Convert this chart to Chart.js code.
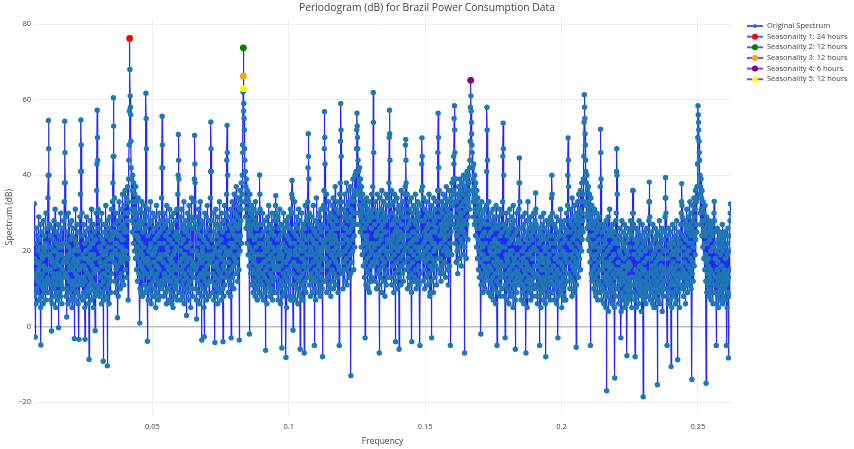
<!DOCTYPE html>
<html>
<head>
<meta charset="utf-8">
<script src="https://cdn.jsdelivr.net/npm/chart.js@4"></script>
<style>
  html, body { margin: 0; padding: 0; background: #fff; }
</style>
</head>
<body>
<canvas id="periodogram" width="854" height="449"></canvas>
<script>
// frequency bins (cycles per hour): bin i sits at i * binWidth
// 64 bins per weekly harmonic (1/168), so each row below starts on a harmonic
const binWidth = 1 / 10752;
const firstBin = 72;

// spectrum in dB
const spectrumDb = [
  32.5, 8, 18, 13, -2.8, 10, 22, 6, 26, 17, 14, 9, 24, 12, 20, 15, 12, 21, 29, 7, 17, 11, 23, 16, 27, 5, -4.9, 13, 19, 8, 25, 14, 11, 18, 21, 6, 28, 10, 16, 20, 24, 12, 9, 15, 22, 7, 30, 11, 15, 19, 26, 9, 21, 13, 34, 40,
  54.5, 47, 40, 12, 27, 9, 19, 15, 24, 7, 21, 18, -1.2, 11, 17, 6, 26, 14, 23, 10, 13, 20, 28, 8, 20, 16, 31, 12, 16, 5, 22, 17, 25, 11, 9, 14, 18, 7, 27, 19, -0.3, 13, 21, 9, 14, 16, 24, 8, 30, 12, 19, 21, 11, 6, 26, 15, 22, 10, 17, 13, 28, 18, 33, 38,
  54.3, 46, 38, 14, 29, 8, 22, 17, 2.5, 10, 25, 13, 18, 6, 30, 19, 21, 9, 15, 12, 27, 16, 23, 7, 12, 20, 19, 11, 28, 5, 24, 15, 17, 10, 26, 8, 20, 18, -3.2, 12, 23, 7, 31, 14, 16, 21, 22, 9, 27, 11, 13, 17, 25, 6, 20, 13, -3.4, 15, 18, 8, 29, 12, 35, 41,
  54.6, 48, 41, 16, 30, 11, 24, 7, 19, 13, 27, 9, 16, 18, 22, 5, -3.4, 12, 25, 15, 20, 8, 29, 20, 14, 10, 23, 14, 18, 6, 26, 17, -8.7, 11, 21, 9, 28, 13, 17, 19, 24, 7, 31, 12, 12, 16, 22, 10, 27, 5, 19, 14, 15, 18, 25, 8, -1.1, 11, 23, 15, 30, 9, 36, 43,
  57.2, 50, 44, 15, 31, 10, 26, 18, 21, 8, 28, 13, 17, 21, 24, 11, 20, 6, 30, 16, 23, 9, 14, 19, -9.2, 12, 22, 7, 27, 14, 25, 17, 19, 10, 32, 20, 16, 8, 24, 13, -10.4, 15, 28, 11, 21, 18, 26, 6, 13, 16, 29, 12, 23, 9, 18, 21, 31, 14, 25, 19, 33, 24, 38, 45,
  60.5, 53, 45, 17, 34, 12, 27, 20, 22, 9, 30, 15, 25, 22, 19, 11, 2.3, 16, 28, 8, 24, 19, 33, 13, 21, 24, 26, 10, 17, 18, 29, 14, 31, 21, 23, 12, 35, 17, 20, 23, 27, 11, 32, 19, 25, 26, 36, 15, 18, 20, 30, 13, 34, 25, 28, 30, 37, 18, 7, 33, 39, 44, 48, 57,
  76.2, 68, 61, 58, 56, 49, 42, 31, 39, 28, 36, 25, 40, 30, 33, 22, 38, 27, 31, 20, 35, 24, 29, 18, 37, 26, 27, 15, 33, 21, 24, 12, 30, 19, 34, 23, 26, 14, 28, 17, 0.9, 10, 31, 20, 22, 9, 27, 16, 33, 13, 19, 8, 25, 15, 30, 18, 21, 11, 28, 14, 32, 9, 26, 17,
  61.7, 55, 47, 14, 29, 10, -3.9, 18, 24, 7, 31, 13, 20, 16, 27, 9, 17, 21, 33, 11, 22, 6, 28, 15, 14, 19, 25, 8, 30, 12, 19, 17, 26, 10, 8, 20, 23, 13, 29, 5, 21, 16, 32, 9, 16, 14, 24, 18, 27, 7, 12, 11, 30, 15, 22, 8, 25, 19, 18, 12, 28, 10, 34, 42,
  55.6, 48, 42, 11, 26, 17, 22, 8, 30, 14, 13, 19, 27, 9, 24, 12, 19, 6, 32, 16, 21, 13, 28, 20, 16, 10, 25, 15, 23, 7, 31, 18, 18, 12, 26, 9, 29, 14, 6, 17, 22, 11, 27, 5, 15, 19, 30, 13, 24, 8, 20, 16, 28, 10, 11, 21, 25, 12, 31, 7, 23, 15, 35, 40,
  50.8, 44, 39, 13, 24, 9, 17, 20, 29, 7, 22, 15, 31, 11, 26, 18, 14, 8, 27, 12, 23, 16, 33, 6, 19, 14, 25, 19, 28, 10, 21, 13, 2.9, 17, 26, 9, 30, 21, 18, 11, 24, 7, 32, 15, 27, 12, 12, 18, 22, 5, 29, 14, 34, 10, 20, 16, 26, 8, 17, 20, 28, 13, 33, 39,
  50.5, 43, 38, 15, 27, 10, 20, 7, 2, 16, 25, 12, 29, 19, 22, 9, 31, 13, 26, 6, 17, 18, 33, 11, 24, 14, 28, 8, -3.6, 17, 21, 20, 27, 10, 19, 13, 23, 5, -2.7, 15, 30, 12, 25, 9, 14, 18, 29, 7, 22, 16, 32, 11, 18, 14, 26, 19, 21, 8, 28, 12, 24, 17, 34, 41,
  54.1, 47, 41, 12, 28, 18, 23, 9, 19, 14, 30, 7, 25, 16, 21, 11, -4.2, 20, 27, 13, 31, 8, 16, 17, 24, 10, 29, 6, 22, 15, 12, 19, 26, 12, 33, 9, 20, 14, 27, 18, 23, 7, 30, 13, 18, 21, 25, 10, -4, 16, 28, 8, 21, 15, 32, 11, 26, 17, 19, 13, 30, 20, 35, 44,
  53.2, 46, 40, 14, 29, 9, 24, 17, 19, 12, 27, 20, 22, 8, 31, 15, -3, 11, 26, 19, 33, 13, 25, 22, 21, 16, 28, 10, 35, 18, 24, 24, 30, 14, 27, 21, 37, 17, 23, 26, 32, 12, 29, 19, 26, 23, 34, 15, -3.6, 27, 31, 20, 36, 24, 28, 31, 38, 22, 33, 35, 40, 48, 46, 62,
  73.7, 57, 59, 55, 52, 47, 44, 33, 41, 29, 37, 26, 39, 31, 34, 22, 36, 27, 31, 19, 33, 24, 28, 16, -2, 21, 35, 25, 30, 14, 26, 18, 32, 11, 24, 20, 29, 15, 27, 9, 18, 17, 31, 12, 23, 19, 28, 8, 33, 14, 21, 10, 26, 16, 30, 7, 24, 13, 19, 11, 27, 15, 22, 9,
  40.1, 35, 31, 12, 24, 16, 14, 8, 27, 19, 22, 11, 30, 14, 19, 7, 25, 17, 21, 13, 28, 9, 17, 20, -6.3, 15, 23, 10, 26, 6, 20, 18, 29, 12, 24, 16, 32, 11, 18, 21, 22, 8, 27, 14, 9, 19, 25, 10, 30, 13, 21, 7, 26, 17, 16, 12, 24, 9, 28, 15, 20, 18, 29, 32,
  34.6, 30, 28, 9, 16, 13, 23, 18, 29, 7, 21, 15, 26, 11, 19, 20, 31, 10, 24, 6, 27, 16, 18, 12, -5.7, 19, 22, 8, 25, 14, 30, 11, 17, 21, 26, 9, 21, 13, 28, 17, -8.2, 10, 24, 5, 20, 15, 27, 12, 12, 18, 29, 8, 23, 14, 19, 20, 26, 11, 31, 7, 22, 16, 30, 35,
  38.7, 34, 30, 14, -1, 8, 25, 17, 22, 11, 33, 20, 19, 7, 27, 13, 24, 16, 29, 10, 21, 19, 26, 6, 16, 12, 31, 15, 23, 9, 28, 21, -6, 13, 20, 8, 25, 18, 30, 11, 22, 14, 18, 7, 27, 16, 24, 20, -7, 10, 26, 12, 32, 17, 21, 9, 28, 15, 23, 19, 29, 13, 33, 42,
  51, 45, 39, 16, 30, 11, 24, 19, 27, 8, 21, 14, 13, 20, 29, 12, 23, 9, 26, 17, 32, 13, 19, 22, -5, 10, 25, 15, 28, 7, 22, 18, 34, 12, 24, 21, 27, 14, 20, 9, 30, 16, 17, 11, 26, 19, 29, 8, 23, 13, 31, 20, 25, 15, 21, 10, -8, 18, 27, 12, 32, 22, 36, 47,
  56.8, 50, 43, 18, 31, 12, 23, 21, 35, 9, 26, 16, 21, 13, 29, 20, 33, 11, 24, 17, 28, 14, 10, 23, 30, 8, 25, 19, 22, 15, 32, 12, 27, 22, 34, 10, 20, 18, 29, 14, 26, 24, 37, 11, 23, 17, 31, 21, 28, 13, 21, 19, 33, 9, 26, 16, 30, 22, -5, 15, 35, 20, 38, 49,
  59, 52, 45, 19, 33, 14, 27, 22, 24, 10, 31, 17, 15, 24, 29, 12, 35, 20, 26, 15, 30, 23, 38, 18, 23, 11, 32, 21, 28, 16, 36, 25, 25, 13, 33, 22, 29, 19, 37, 14, -13, 26, 31, 17, 34, 23, 27, 20, 39, 28, 30, 15, 36, 24, 33, 21, 40, 30, 35, 27, 41, 36, 47, 52,
  56.4, 53, 50, 47, 44, 35, 41, 30, 38, 27, 42, 32, 36, 25, 39, 29, 34, 21, 37, 26, 31, 19, 35, 24, 28, 16, 33, 22, 30, 13, 26, 20, -3, 17, 32, 11, 27, 23, 34, 15, 24, 18, 29, 10, 31, 21, 22, 14, 28, 9, 33, 19, 12, 16, 30, 12, 26, 20, 35, 13, 29, 17, 37, 22,
  61.9, 54, 46, 16, 31, 21, 27, 12, 33, 18, 19, 24, 29, 10, 25, 17, 35, 14, 30, 22, 22, 19, 28, 11, -7, 15, 34, 20, 26, 13, 31, 23, 24, 9, 36, 18, 29, 16, 27, 21, 33, 12, 21, 25, 30, 17, 8, 14, 28, 20, 35, 11, 25, 19, 32, 15, 23, 22, 29, 13, 34, 18, 38, 50,
  57.2, 51, 44, 20, 32, 13, 22, 18, 36, 11, 27, 23, 30, 16, 24, 21, 33, 9, 28, 19, 35, 14, 21, 25, -4, 12, 29, 17, 26, 22, 34, 10, 31, 20, 23, 15, 28, 24, -6, 13, 32, 18, 25, 21, 30, 11, 36, 16, 27, 23, 16, 14, 33, 19, 29, 12, 24, 22, 31, 17, 35, 20, 37, 48,
  49.5, 44, 38, 15, 26, 21, 35, 10, 29, 18, 24, 13, 33, 24, 27, 16, 31, 11, 22, 20, 28, 14, 34, 9, -4, 22, 30, 17, 25, 12, 23, 19, 32, 25, 28, 13, 12, 21, 35, 15, 27, 10, 31, 23, 24, 18, 29, 12, 33, 20, 26, 16, 30, 11, 21, 24, -5, 14, 28, 19, 32, 21, 36, 43,
  49.9, 45, 37, 19, 18, 12, 34, 22, 28, 15, 25, 10, 31, 20, 23, 17, 29, 24, 33, 13, 26, 18, 30, 11, 21, 21, 27, 14, 35, 19, 24, 8, 9, 16, 29, 23, 32, 12, -3, 18, 25, 22, 30, 15, 27, 9, 34, 20, 22, 17, 28, 13, 31, 25, 21, 16, 26, 11, 33, 21, 29, 18, 36, 46,
  56.4, 50, 42, 21, 36, 15, 29, 24, 14, 18, 31, 12, 27, 22, 33, 16, 25, 26, 30, 14, 35, 20, 28, 25, 32, 17, 24, 23, 34, 13, 29, 21, 37, 27, 26, 19, 31, 15, 33, 24, 11, 20, 30, 28, 36, 16, 27, 22, -5, 30, 34, 25, 29, 19, 38, 33, 32, 27, 35, 36, 39, 45, 43, 55,
  58.4, 52, 46, 22, 29, 26, 39, 17, 33, 24, 17, 20, 35, 14, 31, 27, 37, 21, 28, 25, 34, 18, 39, 29, 30, 23, 36, 16, 32, 26, 38, 22, 27, 30, 35, 19, 40, 25, 33, 28, -7, 21, 37, 24, 31, 31, 39, 18, 34, 27, 41, 33, 36, 23, 32, 29, 40, 35, 38, 31, 42, 44, 49, 58,
  65.1, 61, 57, 54, 51, 48, 46, 36, 42, 33, 39, 29, 43, 34, 37, 27, 40, 31, 35, 24, 38, 28, 33, 21, 36, 26, 30, 18, 34, 23, 28, 15, 32, 20, 26, 13, 31, 22, 29, 17, -2, 11, 27, 19, 33, 14, 24, 21, 30, 9, 19, 16, 28, 12, 25, 18, 31, 10, 22, 15, 27, 13, 32, 41,
  58, 52, 44, 14, 29, 18, 24, 9, 33, 16, 27, 12, 21, 20, 30, 8, 25, 15, 9, 11, 28, 19, 22, 13, 31, 7, 26, 17, 19, 10, 29, 21, 23, 14, 27, 6, 32, 16, 20, 12, -5, 18, 26, 9, 22, 15, 29, 20, 17, 11, 31, 13, 24, 8, 27, 17, 21, 14, 30, 10, 25, 16, 33, 45,
  53.8, 47, 40, 13, 27, 8, 21, 16, -3, 11, 26, 19, 30, 7, 18, 14, 24, 10, 28, 17, 14, 12, 25, 6, 22, 15, 31, 9, 19, 20, 26, 13, 23, 8, 29, 16, 20, 11, 27, 5, 32, 14, 24, 18, 17, 10, 28, 12, -6, 7, 22, 15, 25, 9, 30, 13, 19, 17, 26, 11, 23, 14, 31, 38,
  44.6, 38, 33, 12, 22, 16, 11, 7, 26, 13, 29, 9, 20, 18, 24, 11, 17, 6, 27, 15, 21, 10, 30, 14, 23, 8, -7, 17, 25, 12, 19, 5, 28, 16, 33, 10, 22, 13, 26, 19, 15, 9, 24, 11, 29, 7, 20, 15, 27, 12, 23, 18, 18, 8, 25, 14, 30, 10, 21, 13, 26, 16, 28, 30,
  35.3, 31, 27, 11, 20, 14, 8, 6, 24, 16, 18, 10, 26, 13, 22, 8, -5, 17, 25, 12, 29, 5, 19, 15, 23, 9, 27, 11, 17, 18, 24, 7, 30, 13, 21, 10, 26, 15, 20, 6, -8, 12, 23, 16, 28, 8, 18, 14, 25, 11, 21, 17, 27, 9, 19, 13, 24, 7, 29, 15, 22, 12, 28, 34,
  40, 35, 30, 9, 13, 16, 24, 11, 20, 7, 27, 14, 22, 18, 26, 10, 18, 13, 29, 6, 23, 15, 19, 12, -3, 8, 25, 17, 21, 11, 28, 14, 24, 9, 31, 19, 17, 12, 26, 5, 22, 16, 27, 10, 20, 13, 24, 8, 7, 15, 28, 11, 23, 18, 19, 7, 26, 14, 30, 12, 25, 17, 32, 40,
  49.9, 44, 37, 14, 22, 17, 28, 10, 25, 19, 31, 13, 19, 21, 27, 8, 34, 16, 23, 12, 29, 18, 10, 15, 26, 9, 32, 20, 24, 14, 28, 17, -5.5, 11, 30, 22, 25, 16, 33, 19, 27, 13, 35, 24, 29, 18, 31, 21, 36, 15, 28, 26, 33, 20, 38, 23, 30, 28, 35, 25, 39, 33, 45, 54,
  61.3, 58, 55, 51, 48, 44, 41, 32, 38, 29, 40, 26, 36, 30, 33, 23, 37, 27, 31, 20, 35, 24, 29, 17, -5, 22, 34, 14, 28, 19, 32, 12, 26, 21, 30, 15, 24, 10, 27, 18, 31, 13, 22, 16, 9, 8, 28, 19, 25, 11, 30, 14, 21, 7, 26, 17, 23, 12, 29, 9, 20, 15, 27, 37,
  52.2, 46, 39, 11, 18, 7, 25, 15, 21, 10, 27, 13, 16, 6, 23, 17, 19, 9, 26, 12, 22, 5, 28, 14, -17, 8, 24, 16, 20, 11, 29, 4, 17, 13, 25, 9, 31, 15, 21, 7, 26, 12, 18, 10, 24, 16, 6, 6, 27, 14, 22, 9, 19, 11, 25, 5, -13.6, 13, 23, 8, 28, 15, 30, 41,
  47, 40, 35, 10, 22, 14, 17, 6, 24, 12, 20, 8, 26, 15, 19, 11, -3, 4, 23, 13, 28, 9, 14, 16, 21, 7, 25, 12, 18, 5, 27, 14, 22, 10, 24, 8, 16, 13, 20, 6, -7.7, 11, 26, 15, 19, 9, 23, 7, 17, 12, 25, 10, 21, 16, 28, 8, 13, 11, 24, 5, 26, 13, 30, 36,
  36, 30, 27, 9, 19, 13, 23, 7, -8, 11, 21, 15, 26, 5, 12, 12, 22, 8, 18, 14, 25, 10, 20, 6, 28, 13, 16, 9, 23, 16, 19, 11, 24, 4, 21, 12, 27, 8, 15, 14, -18.6, 10, 22, 7, 17, 15, 25, 9, 20, 12, 23, 6, 8, 11, 26, 13, 18, 8, 21, 10, 24, 14, 28, 33,
  38.2, 33, 29, 11, 21, 7, 18, 14, 25, 9, 16, 12, 22, 6, 27, 15, 19, 10, 5, 13, 23, 8, 20, 16, 26, 5, 17, 11, 24, 14, 21, 9, -15.4, 12, 25, 7, 18, 15, 22, 10, 28, 6, 19, 13, 24, 9, 13, 16, 21, 11, 26, 4, 18, 14, 23, 8, 10, 12, 20, 15, 25, 10, 29, 34,
  39.4, 34, 30, 12, 20, 8, -5, 14, 24, 10, 18, 6, 26, 15, 22, 9, 15, 13, 21, 7, 25, 11, -10.6, 16, 19, 5, 23, 12, 27, 9, 17, 14, 22, 8, 20, 11, 26, 15, 14, 6, 24, 13, 19, 10, 28, 7, 21, 16, -8.8, 12, 23, 9, 18, 14, 25, 5, 20, 11, 22, 13, 27, 16, 30, 33,
  37.8, 32, 29, 10, 14, 15, 24, 8, 21, 13, 27, 17, 19, 11, 28, 6, 23, 14, 26, 19, 31, 12, 20, 9, 25, 16, 29, 13, 22, 20, 27, 11, 33, 15, 24, 18, 30, 10, 26, 22, -14, 14, 28, 17, 32, 12, 25, 21, 34, 16, 29, 24, 31, 19, 36, 23, 27, 27, 33, 25, 37, 34, 43, 50,
  58.4, 56, 54, 52, 49, 46, 44, 35, 40, 30, 37, 27, 39, 31, 34, 24, 36, 28, 31, 21, 33, 25, 28, 18, 30, 22, 26, 15, 32, 19, 24, 12, -15, 17, 29, 9, 22, 14, 27, 11, 25, 16, 18, 8, 28, 13, 23, 10, 26, 15, 20, 7, 12, 12, 24, 9, 27, 14, 21, 6, 25, 11, 28, 30,
  33.1, 28, 25, 9, 18, 13, 22, 6, -5, 11, 20, 15, 26, 8, 17, 12, 23, 5, 9, 14, 21, 10, 25, 7, 19, 13, 24, 9, 16, 16, 22, 11, 27, 6, 20, 12, 23, 8, 14, 15, 25, 10, 21, 13, 18, 7, 24, 11, -5, 14, 22, 5, 19, 12, 26, 9, -8.3, 13, 20, 8, 24, 15, 28, 30,
  32.4
];

// detected seasonalities
const seasonLabels = [
  'Seasonality 1: 24 hours',
  'Seasonality 2: 12 hours',
  'Seasonality 3: 12 hours',
  'Seasonality 4: 6 hours',
  'Seasonality 5: 12 hours'
];
const seasonFreqs = [1 / 24, 1 / 12, 1 / 12, 1 / 6, 1 / 12];
const seasonDb = [76.2, 73.7, 66.2, 65.1, 62.9];
const seasonColors = ['#ff0000', '#008000', '#ffa500', '#800080', '#ffff00'];

const chartTitle = 'Periodogram (dB) for Brazil Power Consumption Data';
const xTicks = [0.05, 0.1, 0.15, 0.2, 0.25];
const yTicks = [-20, 0, 20, 40, 60, 80];

const FONT = '"Open Sans", "DejaVu Sans", sans-serif';
const lineBlue = 'rgba(0,0,255,0.85)';

const datasets = [{
  label: 'Original Spectrum',
  data: spectrumDb.map((v, i) => ({ x: (firstBin + i) * binWidth, y: v })),
  borderColor: lineBlue,
  borderWidth: 1.2,
  pointRadius: 2.7,
  pointBorderWidth: 0,
  pointBackgroundColor: '#1f77b4',
  tension: 0,
  order: 1
}];
seasonLabels.forEach((lab, i) => {
  datasets.push({
    label: lab,
    data: [{ x: seasonFreqs[i], y: seasonDb[i] }],
    showLine: false,
    pointRadius: 3.4,
    pointBorderWidth: 0,
    pointBackgroundColor: seasonColors[i],
    borderColor: lineBlue,
    order: 0
  });
});

// title centred on the whole figure + plotly-like legend on the right
const sideLegend = {
  id: 'sideLegend',
  afterDraw(chart) {
    const ctx = chart.ctx;
    ctx.save();
    ctx.fillStyle = '#444';
    ctx.font = '10.3px ' + FONT;
    ctx.textAlign = 'center';
    ctx.textBaseline = 'middle';
    ctx.fillText(chartTitle, chart.width / 2, 8.5);

    ctx.textAlign = 'left';
    ctx.font = '7.5px ' + FONT;
    chart.data.datasets.forEach((ds, i) => {
      const y = 26 + i * 10.65;
      ctx.strokeStyle = 'rgba(0,0,255,0.65)';
      ctx.lineWidth = 2;
      ctx.beginPath();
      ctx.moveTo(747, y);
      ctx.lineTo(763, y);
      ctx.stroke();
      ctx.fillStyle = ds.pointBackgroundColor;
      ctx.beginPath();
      ctx.arc(755, y, i ? 3 : 2, 0, Math.PI * 2);
      ctx.fill();
      ctx.fillStyle = '#444';
      ctx.fillText(ds.label, 767, y);
    });
    ctx.restore();
  }
};

new Chart(document.getElementById('periodogram'), {
  type: 'line',
  data: { datasets: datasets },
  plugins: [sideLegend],
  options: {
    responsive: false,
    animation: false,
    devicePixelRatio: 1,
    layout: { padding: { left: 0, right: 123, top: 17.6, bottom: 0 } },
    plugins: {
      legend: { display: false },
      tooltip: { enabled: false },
      title: { display: false }
    },
    scales: {
      x: {
        type: 'linear',
        min: 0.0066,
        max: 0.2621,
        afterBuildTicks: s => { s.ticks = xTicks.map(v => ({ value: v })); },
        afterFit: s => { s.height = 32.5; },
        ticks: {
          callback: v => String(v),
          color: '#444',
          font: { family: FONT, size: 7.5 },
          padding: 6,
          maxRotation: 0,
          autoSkip: false
        },
        grid: { color: '#eeeeee', drawTicks: false },
        border: { display: false },
        title: {
          display: true,
          text: 'Frequency',
          color: '#444',
          font: { family: FONT, size: 8.5 },
          padding: { top: 0, bottom: 2 }
        }
      },
      y: {
        min: -23.8,
        max: 81.7,
        afterBuildTicks: s => { s.ticks = yTicks.map(v => ({ value: v })); },
        afterFit: s => { s.width = 34; },
        ticks: {
          callback: v => (v < 0 ? '\u2212' + Math.abs(v) : String(v)),
          color: '#444',
          font: { family: FONT, size: 7.5 },
          padding: 3
        },
        grid: {
          color: c => (c.tick && c.tick.value === 0 ? '#bdbdbd' : '#eeeeee'),
          lineWidth: c => (c.tick && c.tick.value === 0 ? 1.6 : 1),
          drawTicks: false
        },
        border: { display: false },
        title: {
          display: true,
          text: 'Spectrum (dB)',
          color: '#444',
          font: { family: FONT, size: 8.5 },
          padding: { top: 4, bottom: 0 }
        }
      }
    }
  }
});
</script>
</body>
</html>
